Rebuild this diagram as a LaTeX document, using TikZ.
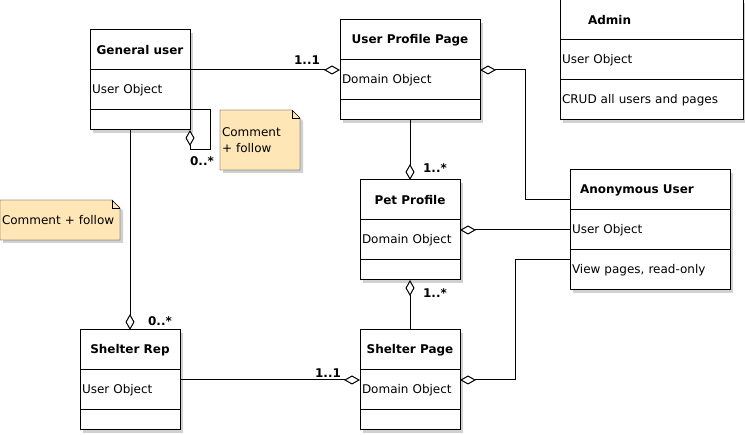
\documentclass[tikz,border=0pt]{standalone}
\usepackage{fontspec}
\setmainfont{DejaVu Sans}
\usetikzlibrary{arrows.meta,shadows,backgrounds}
\definecolor{notefill}{RGB}{255,230,183}
\newcommand\umltxt{\fontsize{12}{16}\selectfont}
% folded paper behind a note node
\newcommand\notepaper[1]{%
  \fill[black!18] ([xshift=3pt,yshift=-3pt]#1.south west) -- ([xshift=3pt,yshift=-3pt]#1.north west) -- ([xshift=-5pt,yshift=-3pt]#1.north east) -- ([xshift=3pt,yshift=-11pt]#1.north east) -- ([xshift=3pt,yshift=-3pt]#1.south east) -- cycle;
  \draw[fill=notefill] (#1.south west) -- (#1.north west) -- ([xshift=-8pt]#1.north east) -- ([yshift=-8pt]#1.north east) -- (#1.south east) -- cycle;
  \draw ([xshift=-8pt]#1.north east) |- ([yshift=-8pt]#1.north east);}

\begin{document}
\begin{tikzpicture}[x=1pt,y=-1pt,line width=1pt,font=\umltxt,
    row/.style={draw,fill=white,anchor=north west,outer sep=0pt,inner xsep=2pt,
      general shadow={fill=black!18,shadow xshift=3pt,shadow yshift=-3pt}},
    head/.style={row,font=\umltxt\bfseries,minimum width=#1,minimum height=40pt},
    attr/.style={row,text width=#1,align=left,minimum height=40pt},
    ops/.style={row,text width=#1,minimum height=20pt},
    note/.style={anchor=north west,outer sep=0pt,inner xsep=2pt,align=left,text width=#1},
    mult/.style={font=\umltxt\bfseries,inner sep=0pt},
    agg/.style={-{Diamond[open,length=16pt,width=9pt]}},
    aggstart/.style={{Diamond[open,length=16pt,width=9pt]}-}]
  \useasboundingbox (0,0) rectangle (745,435);

  % classes
  \node[head=100pt] (genhead) at (90,30) {General user};
  \node[attr=96pt] (genattr) at (90,70) {User Object};
  \node[ops=96pt] (genops) at (90,110) {};

  \node[head=140pt] (upphead) at (340,20) {User Profile Page};
  \node[attr=136pt] (uppattr) at (340,60) {Domain Object};
  \node[ops=136pt] (uppops) at (340,100) {};

  \node[head=183pt,text width=127pt,inner xsep=28pt,align=left] (admhead) at (560,0) {Admin};
  \node[attr=179pt] (admattr) at (560,40) {User Object};
  \node[attr=179pt] (admops) at (560,80) {CRUD all users and pages};

  \node[head=160pt,text width=140pt,inner xsep=10pt,align=left] (anonhead) at (570,170) {Anonymous User};
  \node[attr=156pt] (anonattr) at (570,210) {User Object};
  \node[attr=156pt] (anonops) at (570,250) {View pages, read-only};

  \node[head=100pt] (pethead) at (360,180) {Pet Profile};
  \node[attr=96pt] (petattr) at (360,220) {Domain Object};
  \node[ops=96pt] (petops) at (360,260) {};

  \node[head=100pt] (srhead) at (80,330) {Shelter Rep};
  \node[attr=96pt] (srattr) at (80,370) {User Object};
  \node[ops=96pt] (srops) at (80,410) {};

  \node[head=100pt] (sphead) at (360,330) {Shelter Page};
  \node[attr=96pt] (spattr) at (360,370) {Domain Object};
  \node[ops=96pt] (spops) at (360,410) {};

  % notes
  \node[note=76pt,minimum height=60pt] (note1) at (220,110) {Comment\\+ follow};
  \node[note=116pt,minimum height=40pt] (note2) at (0,200) {Comment + follow};
  \begin{scope}[on background layer]
    \notepaper{note1}
    \notepaper{note2}
  \end{scope}

  % associations
  \draw[agg] (genhead.south east) -- (genhead.south east -| uppattr.west);
  \draw[agg] (genattr.south east) -| ([xshift=20pt,yshift=-20pt]genops.south east) -| (genops.south east);
  \draw[agg] (genops.south -| srhead.north) -- (srhead.north);
  \draw[agg] (uppops.south) -- (pethead.north);
  \draw[aggstart] ([yshift=-10pt]uppattr.north east) -| ([xshift=-45pt,yshift=-10pt]anonhead.west) -- ([yshift=-10pt]anonhead.west);
  \draw[aggstart] (anonattr.west -| petattr.east) -- (anonattr.west);
  \draw[agg] (sphead.north) -- (petops.south);
  \draw[agg] ([yshift=10pt]srattr.east) -- ([yshift=10pt]srattr.east -| spattr.west);
  \draw[aggstart] ([yshift=10pt]spattr.east) -| ([xshift=-55pt,yshift=10pt]anonops.west) -- ([yshift=10pt]anonops.west);

  % multiplicities
  \node[mult] (mgenupp) at (307,60) {1..1};
  \node[mult] (mgenself) at (202,161) {0..*};
  \node[mult] (mgensr) at (160,321) {0..*};
  \node[mult] (muppet) at (435,168) {1..*};
  \node[mult] (mpetsp) at (435,293) {1..*};
  \node[mult] (msrsp) at (328,373) {1..1};
\end{tikzpicture}
\end{document}
